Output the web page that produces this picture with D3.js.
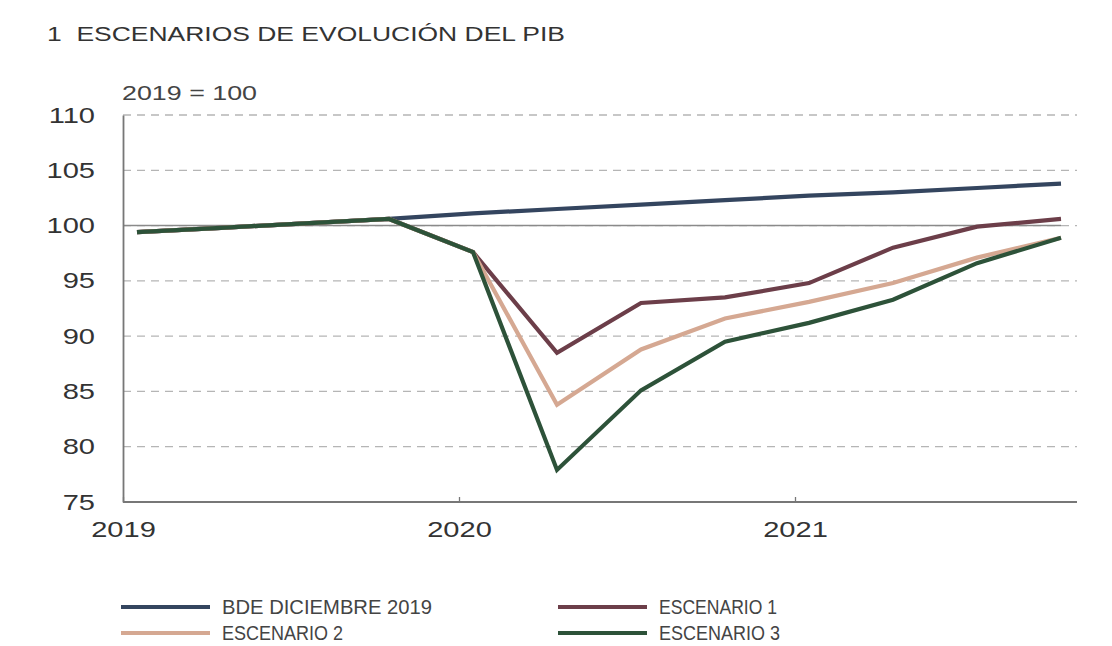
<!DOCTYPE html>
<html>
<head>
<meta charset="utf-8">
<script src="https://cdn.jsdelivr.net/npm/d3@7"></script>
<style>
  html, body { margin: 0; padding: 0; background: #fff; }
  svg { display: block; }
  text { white-space: pre; }
</style>
</head>
<body>
<svg id="chart" width="1112" height="646"></svg>
<script>
// ---- Data ----
const quarters = ["2019T1","2019T2","2019T3","2019T4","2020T1","2020T2","2020T3","2020T4","2021T1","2021T2","2021T3","2021T4"];
const bde        = [99.4, 99.8, 100.2, 100.6, 101.1, 101.5, 101.9, 102.3, 102.7, 103.0, 103.4, 103.8];
const escenario1 = [99.4, 99.8, 100.2, 100.6, 97.6, 88.5, 93.0, 93.5, 94.8, 98.0, 99.9, 100.6];
const escenario2 = [99.4, 99.8, 100.2, 100.6, 97.6, 83.8, 88.8, 91.6, 93.1, 94.8, 97.1, 98.9];
const escenario3 = [99.4, 99.8, 100.2, 100.6, 97.6, 77.9, 85.1, 89.5, 91.2, 93.3, 96.6, 98.9];
const seriesNames = ["BDE DICIEMBRE 2019", "ESCENARIO 1", "ESCENARIO 2", "ESCENARIO 3"];
const seriesColors = ["#34455f", "#6c3e49", "#d5a892", "#2d5239"];
const yTicks = [75, 80, 85, 90, 95, 100, 105, 110];
const xTicks = [2019, 2020, 2021];
const title = "1  ESCENARIOS DE EVOLUCIÓN DEL PIB";
const unitLabel = "2019 = 100";

// ---- Setup ----
const svg = d3.select("#chart");
const mLeft = 123, mRight = 1077, mTop = 115, mBottom = 502;
const fontMain = "'Liberation Sans', Arial, sans-serif";
const fontLegend = "'Liberation Sans Narrow', 'Liberation Sans', Arial, sans-serif";
const widen = 1.32; // the reference lettering is horizontally wide

function stretch(sel, factor) {
  sel.each(function () {
    const w = this.getComputedTextLength();
    d3.select(this).attr("textLength", w * factor).attr("lengthAdjust", "spacingAndGlyphs");
  });
}

// quarter -> decimal time (points placed half a month into each quarter)
const qTime = q => +q.slice(0, 4) + (+q.slice(5) - 1) / 4 + 1 / 24;

const x = d3.scaleLinear().domain([2019, 2019 + (mRight - mLeft) / 336]).range([mLeft, mRight]);
const y = d3.scaleLinear().domain([75, 110]).range([mBottom, mTop]);

// Title
svg.append("text").attr("x", 47).attr("y", 41)
  .attr("font-family", fontMain).attr("font-size", 20).attr("fill", "#333")
  .attr("textLength", 518).attr("lengthAdjust", "spacingAndGlyphs")
  .text(title);

// Unit label
svg.append("text").attr("x", 122).attr("y", 100)
  .attr("font-family", fontMain).attr("font-size", 20).attr("fill", "#444")
  .attr("textLength", 135).attr("lengthAdjust", "spacingAndGlyphs")
  .text(unitLabel);

// Gridlines (dashed)
svg.append("g").selectAll("line").data(yTicks.filter(v => v !== 75)).join("line")
  .attr("x1", mLeft).attr("x2", mRight)
  .attr("y1", d => y(d)).attr("y2", d => y(d))
  .attr("stroke", "#b5b5b5").attr("stroke-width", 1.3)
  .attr("stroke-dasharray", "8,6");

// Solid reference line at 100
svg.append("line")
  .attr("x1", mLeft).attr("x2", x(qTime(quarters[quarters.length - 1])))
  .attr("y1", y(100)).attr("y2", y(100))
  .attr("stroke", "#8a8a8a").attr("stroke-width", 1.5);

// Y axis
const yAxis = d3.axisLeft(y).tickValues(yTicks).tickSize(0).tickPadding(28).tickFormat(d3.format("d"));
const gy = svg.append("g").attr("transform", `translate(${mLeft},0)`).call(yAxis);
gy.select(".domain").attr("stroke", "#777").attr("stroke-width", 1.8);
gy.selectAll("text").attr("font-family", fontMain).attr("font-size", 22).attr("fill", "#333");
stretch(gy.selectAll("text"), widen);

// X axis
const xAxis = d3.axisTop(x).tickValues(xTicks).tickSize(5).tickFormat(d3.format("d"));
const gx = svg.append("g").attr("transform", `translate(0,${mBottom})`).call(xAxis);
gx.select(".domain").attr("stroke", "#777").attr("stroke-width", 1.8).attr("d", `M${mLeft},0H${mRight}`);
gx.selectAll(".tick line").attr("stroke", "#777").attr("stroke-width", 1.3);
gx.selectAll(".tick text")
  .attr("y", 35).attr("dy", 0)
  .attr("font-family", fontMain).attr("font-size", 22).attr("fill", "#333");
stretch(gx.selectAll(".tick text"), widen);

// Lines
const allSeries = [bde, escenario1, escenario2, escenario3];
const line = d3.line().x((d, i) => x(qTime(quarters[i]))).y(d => y(d));
svg.append("g").selectAll("path").data(allSeries).join("path")
  .attr("d", d => line(d))
  .attr("fill", "none")
  .attr("stroke", (d, i) => seriesColors[i])
  .attr("stroke-width", 4.2)
  .attr("stroke-linejoin", "miter");

// Legend
const legendPos = [[121, 607], [558, 607], [121, 633], [558, 633]];
const legendWidths = [210, 118, 121, 121];
const lg = svg.append("g");
[0, 1, 2, 3].forEach((s, k) => {
  const [lx, ly] = legendPos[k];
  lg.append("line").attr("x1", lx).attr("x2", lx + 89).attr("y1", ly).attr("y2", ly)
    .attr("stroke", seriesColors[s]).attr("stroke-width", 4);
  lg.append("text").attr("x", lx + 101).attr("y", ly + 7)
    .attr("font-family", fontLegend).attr("font-size", 21).attr("fill", "#444")
    .attr("textLength", legendWidths[k]).attr("lengthAdjust", "spacingAndGlyphs")
    .text(seriesNames[s]);
});
</script>
</body>
</html>
